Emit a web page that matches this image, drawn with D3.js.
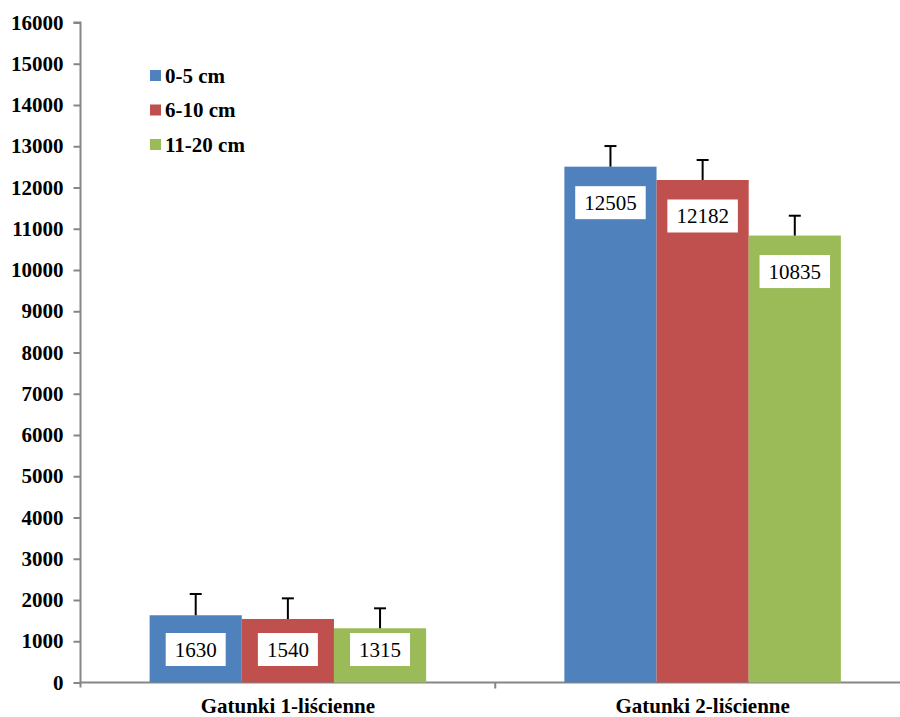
<!DOCTYPE html>
<html>
<head>
<meta charset="utf-8">
<script src="https://cdn.jsdelivr.net/npm/d3@7"></script>
<style>
  html, body { margin: 0; padding: 0; background: #fff; }
  svg { display: block; }
</style>
</head>
<body>
<svg id="chart" width="900" height="717"></svg>
<script>
const categories = ["Gatunki 1-liścienne", "Gatunki 2-liścienne"];
const seriesNames = ["0-5 cm", "6-10 cm", "11-20 cm"];
const values05 = [1630, 12505];
const values610 = [1540, 12182];
const values1120 = [1315, 10835];
const errors05 = [515, 500];
const errors610 = [500, 485];
const errors1120 = [483, 481];
const yTicks = [0,1000,2000,3000,4000,5000,6000,7000,8000,9000,10000,11000,12000,13000,14000,15000,16000];
const colors = ["#4F81BD", "#C0504D", "#9BBB59"];

(function () {
const seriesValues = [values05, values610, values1120];
const seriesErrors = [errors05, errors610, errors1120];

const svg = d3.select("#chart");
const mLeft = 80.5, mRight = 910, mTop = 22.5, mBottom = 682.5;
const font = "Liberation Serif, Times New Roman, serif";

const y = d3.scaleLinear().domain([0, 16000]).range([mBottom, mTop]);
const x0 = d3.scaleBand().domain(categories).range([mLeft, mRight]).paddingInner(1/3).paddingOuter(1/6);
const x1 = d3.scaleBand().domain(seriesNames).range([0, x0.bandwidth()]).padding(0);

// Y axis
const yAxis = d3.axisLeft(y).tickValues(yTicks).tickSize(7).tickPadding(10).tickFormat(d3.format("d"));
const gy = svg.append("g").attr("transform", `translate(${mLeft},0)`).call(yAxis);
gy.select(".domain").attr("stroke", "#868686").attr("stroke-width", 2).attr("d", `M-7,${mTop}H0V${mBottom + 5}`);
gy.selectAll(".tick line").attr("stroke", "#868686").attr("stroke-width", 2);
gy.selectAll(".tick text").style("font-family", font).attr("font-size", 21).attr("font-weight", "bold").attr("fill", "#000");

// X axis
const gx = svg.append("g").attr("transform", `translate(0,${mBottom})`);
gx.append("line").attr("x1", mLeft).attr("x2", mRight).attr("y1", 0).attr("y2", 0).attr("stroke", "#868686").attr("stroke-width", 2);
const boundaries = [mLeft + x0.step(), mRight];
gx.selectAll("line.xt").data(boundaries).enter().append("line").attr("class", "xt")
  .attr("x1", d => d).attr("x2", d => d).attr("y1", 0).attr("y2", 6).attr("stroke", "#868686").attr("stroke-width", 2);
gx.selectAll("text").data(categories).enter().append("text")
  .attr("x", d => x0(d) + x0.bandwidth() / 2).attr("y", 30.5)
  .attr("text-anchor", "middle").style("font-family", font).attr("font-size", 21).attr("font-weight", "bold")
  .text(d => d);

// Bars
seriesNames.forEach((s, si) => {
  const g = svg.append("g");
  categories.forEach((c, ci) => {
    const v = seriesValues[si][ci];
    const bx = x0(c) + x1(s);
    g.append("rect").attr("x", bx).attr("y", y(v)).attr("width", x1.bandwidth()).attr("height", y(0) - y(v))
      .attr("fill", colors[si]);
  });
});

// Error bars
seriesNames.forEach((s, si) => {
  categories.forEach((c, ci) => {
    const v = seriesValues[si][ci];
    const e = seriesErrors[si][ci];
    const cx = x0(c) + x1(s) + x1.bandwidth() / 2;
    svg.append("line").attr("x1", cx).attr("x2", cx).attr("y1", y(v)).attr("y2", y(v + e)).attr("stroke", "#000").attr("stroke-width", 2);
    svg.append("line").attr("x1", cx - 6).attr("x2", cx + 6).attr("y1", y(v + e)).attr("y2", y(v + e)).attr("stroke", "#000").attr("stroke-width", 2);
  });
});

// Data labels
seriesNames.forEach((s, si) => {
  categories.forEach((c, ci) => {
    const v = seriesValues[si][ci];
    const cx = x0(c) + x1(s) + x1.bandwidth() / 2;
    const cy = Math.min(y(v) + 36, y(0) - 33);
    const g = svg.append("g");
    const rect = g.append("rect").attr("fill", "#fff");
    const t = g.append("text").attr("x", cx).attr("y", cy).attr("dy", "0.35em").attr("text-anchor", "middle")
      .style("font-family", font).attr("font-size", 21).attr("fill", "#000").text(v);
    const bb = t.node().getBBox();
    const w = bb.width + 18, h = 33;
    rect.attr("x", cx - w / 2).attr("y", cy - h / 2).attr("width", w).attr("height", h);
  });
});

// Legend
const legend = svg.append("g");
seriesNames.forEach((s, si) => {
  const ly = 75.5 + si * 34.5;
  legend.append("rect").attr("x", 150).attr("y", ly - 5.5).attr("width", 11).attr("height", 11).attr("fill", colors[si]);
  legend.append("text").attr("x", 165).attr("y", ly).attr("dy", "0.35em").style("font-family", font)
    .attr("font-size", 21).attr("font-weight", "bold").text(s);
});
})();
</script>
</body>
</html>
